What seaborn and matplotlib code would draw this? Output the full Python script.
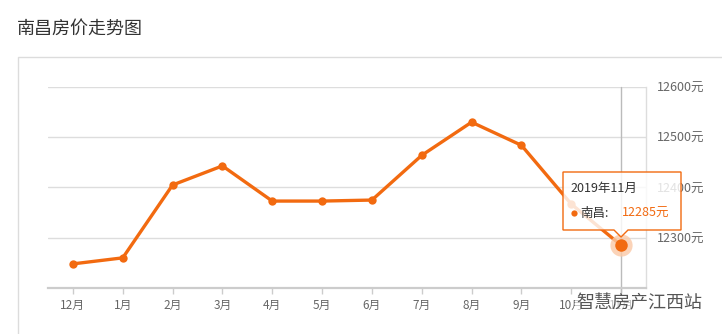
import matplotlib
matplotlib.use("Agg")
import matplotlib.pyplot as plt
import seaborn as sns
import pandas as pd
from matplotlib.patches import Polygon, Rectangle
from matplotlib.lines import Line2D

months = ["12月", "1月", "2月", "3月", "4月", "5月", "6月", "7月", "8月", "9月", "10月", "11月"]
prices = [12248, 12260, 12405, 12443, 12373, 12373, 12375, 12464, 12530, 12484, 12367, 12285]
y_ticks = [12300, 12400, 12500, 12600]
y_labels = ["12300元", "12400元", "12500元", "12600元"]
title = "南昌房价走势图"
tip_date = "2019年11月"
tip_city = "南昌:"
tip_value = "12285元"
watermark = "智慧房产江西站"

sns.set_style("white")
plt.rcParams["font.family"] = ["Noto Sans CJK SC", "DejaVu Sans"]

W, H = 722, 334
fig = plt.figure(figsize=(W / 100, H / 100), dpi=100)

def fx(x):
    return x / W

def fy(y):
    return 1 - y / H

ORANGE = "#f26a10"

# outer panel border
fig.add_artist(Rectangle((fx(18), fy(400)), fx(800), fy(57) - fy(400),
                         transform=fig.transFigure, fill=False,
                         edgecolor="#dcdcdc", linewidth=1.0))
fig.text(fx(17), fy(29), title, fontsize=13, color="#333333", va="center", ha="left")

ax = fig.add_axes([fx(48), fy(288), fx(646) - fx(48), fy(87) - fy(288)])
df = pd.DataFrame({"month": months, "price": prices, "idx": range(len(months))})

ax.set_ylim(12200, 12600)
ax.set_xlim(-0.5, len(months) - 0.5)
for v in y_ticks:
    ax.axhline(v, color="#dddddd", linewidth=1.0, zorder=0)
ax.axvline(len(months) - 1, color="#bbbbbb", linewidth=1.0, zorder=1, ymin=-0.03, clip_on=False)

sns.lineplot(data=df, x="idx", y="price", ax=ax, color=ORANGE, linewidth=2.4,
             marker="o", markersize=6, markeredgewidth=0, zorder=3)

# highlighted last point
last = len(months) - 1
ax.plot([last], [prices[-1]], marker="o", markersize=16, color="#fbc9a6", alpha=0.8,
        markeredgewidth=0, zorder=4, clip_on=False)
ax.plot([last], [prices[-1]], marker="o", markersize=9, color=ORANGE,
        markeredgewidth=0, zorder=5, clip_on=False)

ax.set_xticks(range(len(months)))
ax.set_xticklabels(months)
ax.set_yticks(y_ticks)
ax.set_yticklabels(y_labels)
ax.yaxis.tick_right()
ax.set_xlabel("")
ax.set_ylabel("")
ax.tick_params(axis="x", colors="#cccccc", labelcolor="#666666", labelsize=8.5,
               length=4, width=1, direction="out", pad=4, bottom=True)
ax.tick_params(axis="y", labelcolor="#666666", labelsize=9, length=0, pad=8, right=False)
for s in ["top", "left"]:
    ax.spines[s].set_visible(False)
ax.spines["bottom"].set_color("#cccccc")
ax.spines["bottom"].set_linewidth(1.6)
ax.spines["right"].set_color("#dddddd")
ax.spines["right"].set_linewidth(1.0)

# tooltip
pts = [(563, 172), (681, 172), (681, 230), (628, 230), (621, 237), (614, 230), (563, 230)]
fig.add_artist(Polygon([(fx(x), fy(y)) for x, y in pts], closed=True,
                       transform=fig.transFigure, facecolor="white", alpha=0.82,
                       edgecolor="none", zorder=10))
fig.add_artist(Polygon([(fx(x), fy(y)) for x, y in pts], closed=True,
                       transform=fig.transFigure, fill=False,
                       edgecolor=ORANGE, linewidth=1.0, zorder=11))
fig.text(fx(570), fy(188), tip_date, fontsize=9, color="#333333", va="center", ha="left", zorder=12)
fig.add_artist(Line2D([fx(574)], [fy(213)], marker="o", markersize=4.5, color=ORANGE,
                      markeredgewidth=0, transform=fig.transFigure, zorder=12))
fig.text(fx(580), fy(213), tip_city, fontsize=9, color="#333333", va="center", ha="left", zorder=12)
fig.text(fx(622), fy(213), tip_value, fontsize=9, color=ORANGE, va="center", ha="left", zorder=12)

# watermark
fig.text(fx(576), fy(303), watermark, fontsize=13, color="#555555", va="center", ha="left",
         zorder=12, bbox=dict(facecolor="white", edgecolor="none", alpha=0.6, pad=1))

fig.savefig("out.png", dpi=100)
